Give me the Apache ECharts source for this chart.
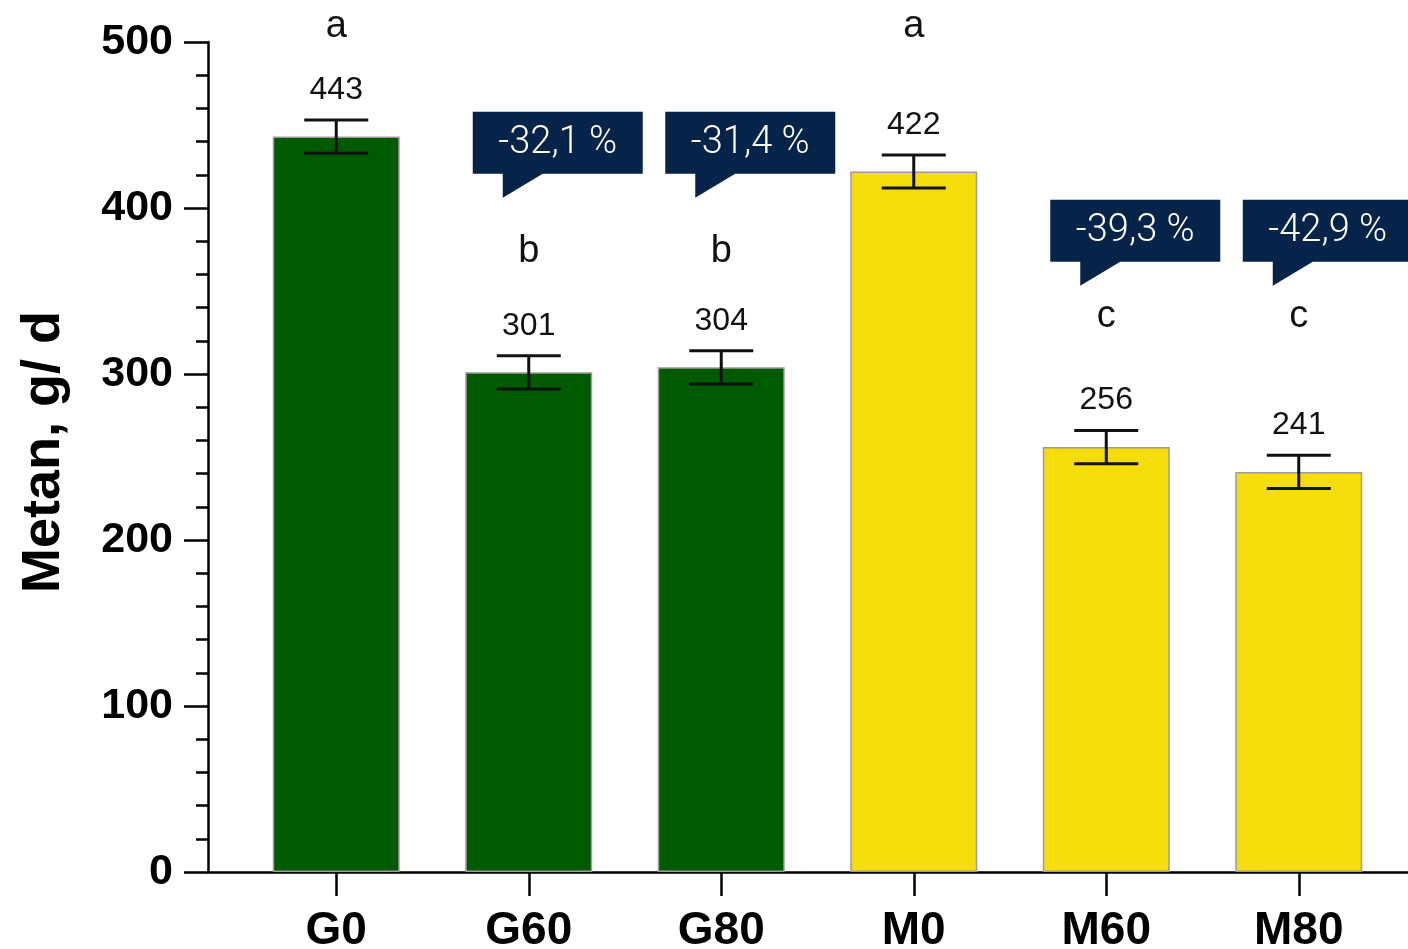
<!DOCTYPE html>
<html>
<head>
<meta charset="utf-8">
<script src="https://cdn.jsdelivr.net/npm/echarts@6/dist/echarts.min.js"></script>
<style>
html,body{margin:0;padding:0;background:#fff;}
#chart{width:1408px;height:949px;}
</style>
</head>
<body>
<div id="chart"></div>
<script>
// ---- data ----
const categories = ['G0', 'G60', 'G80', 'M0', 'M60', 'M80'];
const methane = [443, 301, 304, 422, 256, 241];
const stdErr = [10, 10, 10, 10, 10, 10];
const sigLetters = ['a', 'b', 'b', 'a', 'c', 'c'];
const letterY = [503, 367, 367, 503, 328, 328];
const changeText = ['', '-32,1 %', '-31,4 %', '', '-39,3 %', '-42,9 %'];
const changeBoxTop = [null, 458, 458, null, 405, 405];
const yTicks = { min: 0, max: 500, interval: 100 };

// ---- chart ----
const GREEN = '#005a00', YELLOW = '#f5dc0b', NAVY = '#06234a';
const chart = echarts.init(document.getElementById('chart'));

const errData = categories.map((c, i) => [i, methane[i], stdErr[i]]);
const letterData = categories.map((c, i) => [i, letterY[i], sigLetters[i]]);
const calloutData = [];
categories.forEach((c, i) => { if (changeText[i]) calloutData.push([i, changeBoxTop[i], changeText[i]]); });

const option = {
  backgroundColor: '#ffffff',
  animation: false,
  grid: [
    { left: 208, right: 0, top: 42, bottom: 77, containLabel: false, outerBoundsMode: 'none' },
    { left: 240, right: 13, top: 42, bottom: 77, containLabel: false, outerBoundsMode: 'none' }
  ],
  xAxis: [
    { type: 'category', gridIndex: 0, data: [''],
      axisLine: { show: true, lineStyle: { color: '#000', width: 2.5 } },
      axisTick: { show: false }, axisLabel: { show: false } },
    { type: 'category', gridIndex: 1, data: categories,
      axisLine: { show: false },
      axisTick: { show: true, alignWithLabel: true, length: 24, lineStyle: { color: '#000', width: 2.5 } },
      axisLabel: { margin: 36, fontSize: 46, fontWeight: 'bold', color: '#000', fontFamily: 'Liberation Sans, Arial, sans-serif' } }
  ],
  yAxis: [
    { type: 'value', gridIndex: 0, min: yTicks.min, max: yTicks.max, interval: yTicks.interval,
      name: 'Metan, g/ d', nameLocation: 'middle', nameGap: 137, nameRotate: 90,
      nameTextStyle: { fontSize: 54, fontWeight: 'bold', color: '#000', fontFamily: 'Liberation Sans, Arial, sans-serif', padding: [0, 0, 0, 10] },
      axisLine: { show: true, lineStyle: { color: '#000', width: 2.5 } },
      axisTick: { show: true, length: 24, lineStyle: { color: '#000', width: 2.5 } },
      minorTick: { show: true, splitNumber: 5, length: 12, lineStyle: { color: '#000', width: 2.5 } },
      splitLine: { show: false },
      axisLabel: { margin: 35, fontSize: 43, fontWeight: 'bold', color: '#000', fontFamily: 'Liberation Sans, Arial, sans-serif' } },
    { type: 'value', gridIndex: 1, min: yTicks.min, max: yTicks.max, interval: yTicks.interval, show: false }
  ],
  series: [
    { type: 'bar', xAxisIndex: 1, yAxisIndex: 1, data: methane, barWidth: 127,
      itemStyle: {
        color: p => categories[p.dataIndex].startsWith('G') ? GREEN : YELLOW,
        borderColor: '#9c9c9c', borderWidth: 1.5
      }, z: 2 },
    { type: 'custom', xAxisIndex: 1, yAxisIndex: 1, data: errData, z: 5, clip: false,
      encode: { x: 0, y: 1 },
      renderItem: function (params, api) {
        const x = api.value(0), v = api.value(1), se = api.value(2);
        const top = api.coord([x, v + se]);
        const bot = api.coord([x, v - se]);
        const hw = 32;
        const st = { stroke: '#111', lineWidth: 3 };
        return { type: 'group', children: [
          { type: 'line', shape: { x1: top[0], y1: top[1], x2: bot[0], y2: bot[1] }, style: st },
          { type: 'line', shape: { x1: top[0] - hw, y1: top[1], x2: top[0] + hw, y2: top[1] }, style: st },
          { type: 'line', shape: { x1: bot[0] - hw, y1: bot[1], x2: bot[0] + hw, y2: bot[1] }, style: st },
          { type: 'text', style: { x: top[0], y: top[1] - 14, text: String(v), fill: '#111',
              font: '32px "Liberation Sans", Arial, sans-serif', textAlign: 'center', verticalAlign: 'bottom' } }
        ]};
      } },
    { type: 'custom', xAxisIndex: 1, yAxisIndex: 1, data: letterData, z: 5, clip: false,
      encode: { x: 0, y: 1 },
      renderItem: function (params, api) {
        const p = api.coord([api.value(0), api.value(1)]);
        return { type: 'text', style: { x: p[0], y: p[1] + 8, text: letterData[params.dataIndex][2], fill: '#111',
          font: '38px "Liberation Sans", Arial, sans-serif', textAlign: 'center', verticalAlign: 'bottom' } };
      } },
    { type: 'custom', xAxisIndex: 1, yAxisIndex: 1, data: calloutData, z: 6, clip: false,
      encode: { x: 0, y: 1 },
      renderItem: function (params, api) {
        const p = api.coord([api.value(0), api.value(1)]);
        const L = p[0] - 56, T = p[1], W = 170, H = 62, B = T + H;
        return { type: 'group', children: [
          { type: 'polygon', shape: { points: [[L, T], [L + W, T], [L + W, B], [L + 70, B], [L + 30, B + 24], [L + 30, B], [L, B]] },
            style: { fill: NAVY } },
          { type: 'text', style: { x: L + W / 2, y: T + H / 2 + 1, text: calloutData[params.dataIndex][2], fill: '#fff',
            font: '300 38px Roboto, sans-serif', textAlign: 'center', verticalAlign: 'middle' } }
        ]};
      } }
  ]
};
chart.setOption(option);
</script>
</body>
</html>
